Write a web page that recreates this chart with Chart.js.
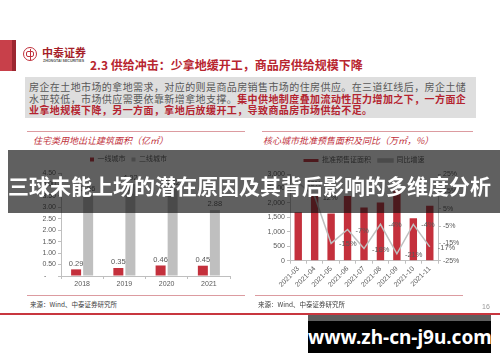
<!DOCTYPE html>
<html>
<head>
<meta charset="utf-8">
<script src="https://cdn.jsdelivr.net/npm/chart.js@4.4.0/dist/chart.umd.min.js"></script>
<style>
  body { margin: 0; width: 500px; height: 362px; position: relative; overflow: hidden; background: #fff;
         font-family: "Noto Sans CJK SC", sans-serif; }
  .abs { position: absolute; white-space: nowrap; }
  .rule { position: absolute; height: 1px; background: #dc9ba0; }
  .cap { position: absolute; font-size: 9px; font-style: italic; color: #c0303b; line-height: 10px; }
  .src { position: absolute; font-size: 6.5px; color: #404040; line-height: 8px; }
  .red { color: #b4232f; font-weight: 700; }
</style>
</head>
<body>

<!-- slide header -->
<div class="abs" style="left:0;top:40px;width:12px;height:31px;background:#c8404a"></div>
<div class="abs" style="left:12px;top:40px;width:4px;height:31px;background:#9c2630"></div>
<div class="abs" style="left:23px;top:47px;width:12px;height:12px;border:1.5px solid #c0303b;border-radius:50%"></div>
<div class="abs" style="left:26px;top:51px;width:6px;height:4px;border:1.3px solid #c0303b;border-radius:2px"></div>
<div class="abs" style="left:29.5px;top:48.5px;width:1.4px;height:11px;background:#c0303b"></div>
<div class="abs" style="left:42px;top:46px;font-size:11px;font-weight:700;color:#a51f2a;line-height:13px">中泰证券</div>
<div class="abs" style="left:43px;top:59px;font-size:3.6px;font-weight:700;color:#555;line-height:4px;font-family:'Liberation Sans'">ZHONGTAI SECURITIES</div>
<div class="abs" style="left:90px;top:57px;font-size:12px;font-weight:700;color:#b8252f;line-height:15px">2.3 供给冲击：少拿地缓开工，商品房供给规模下降</div>

<div class="abs" style="left:25px;top:77px;width:451px;height:41px;background:#dedede"></div>
<div class="abs" style="left:29px;top:80.8px;font-size:10px;line-height:11.7px;letter-spacing:0.41px;color:#595959">房企在土地市场的拿地需求，对应的则是商品房销售市场的住房供应。在三道红线后，房企土储<br>水平较低，市场供应需要依靠新增拿地支撑。<span class="red">集中供地制度叠加流动性压力增加之下，一方面企</span><br><span class="red">业拿地规模下降，另一方面，拿地后放缓开工，导致商品房市场供给不足。</span></div>

<!-- left chart frame -->
<div class="rule" style="left:27px;top:131px;width:218px"></div>
<div class="cap" style="left:33px;top:136px">住宅类用地出让建筑面积（亿㎡）</div>
<canvas id="landChart" class="abs" width="218" height="145" style="left:27px;top:150px"></canvas>
<div class="rule" style="left:27px;top:295px;width:218px"></div>
<div class="src" style="left:30px;top:300px">来源：Wind、中泰证券研究所</div>

<!-- right chart frame -->
<div class="rule" style="left:262px;top:131px;width:211px"></div>
<div class="cap" style="left:263px;top:136px">核心城市批准预售面积及同比（万㎡，%）</div>
<canvas id="presaleChart" class="abs" width="218" height="150" style="left:255px;top:150px"></canvas>
<div class="rule" style="left:255px;top:295px;width:208px"></div>
<div class="src" style="left:258px;top:300px">来源：Wind、中泰证券研究所</div>

<!-- footer -->
<div class="abs" style="left:0;top:312.5px;width:500px;height:2.5px;background:#c8363f"></div>
<div class="abs" style="left:482px;top:303px;font-size:7px;color:#999;line-height:8px;font-family:'Liberation Sans'">16</div>

<!-- overlays -->
<div class="abs" style="left:8px;top:150px;width:492px;height:63px;background:rgba(14,14,14,0.66)"></div>
<div class="abs" style="left:8px;top:172px;font-size:21px;font-weight:700;color:#fff;line-height:26px">三球未能上场的潜在原因及其背后影响的多维度分析</div>
<div class="abs" style="left:308px;top:315px;width:183px;height:6px;background:#5e5e5e"></div>
<div class="abs" style="left:308px;top:321px;width:183px;height:32px;background:#000"></div>
<div class="abs" style="left:308px;top:321px;width:183px;height:32px;line-height:32px;text-align:center;font-family:'Noto Sans';font-weight:700;font-size:19px;color:#fff">www.zh-cn-j9u.com</div>

<script>
// left chart: residential land supply, 100 million m2
const years = ["2018", "2019", "2020", "2021"];
const tier1Area = [0.29, 0.35, 0.46, 0.45];
const tier2Area = [3.56, 4.02, 3.82, 2.88];

// right chart: approved presale area (10k m2) and yoy growth (%)
const months = ["2021-03", "2021-04", "2021-05", "2021-06", "2021-07", "2021-08", "2021-09", "2021-10", "2021-11"];
const presaleArea = [1680, 2250, 1630, 2240, 1840, 2010, 2430, 1470, 1900];
const yoyGrowth = [20, 12, -15, -7, -18, -4, -21, -4, -17];

const RED = "#c4303c";
const GREY = "#bfbfbf";
const TEXT = "#595959";

Chart.defaults.font.family = "'Liberation Sans', 'Noto Sans CJK SC', sans-serif";
Chart.defaults.font.size = 7;
Chart.defaults.color = TEXT;
Chart.defaults.animation = false;

// draws the value of each bar / point next to it
const valueLabels = {
  id: "valueLabels",
  afterDatasetsDraw(chart, args, opts) {
    const ctx = chart.ctx;
    (opts.sets || []).forEach((set) => {
      const meta = chart.getDatasetMeta(set.index);
      const values = chart.data.datasets[set.index].data;
      ctx.save();
      ctx.font = "7.5px 'Liberation Sans'";
      ctx.fillStyle = TEXT;
      meta.data.forEach((el, i) => {
        if (set.mode === "top") {
          ctx.textAlign = "center";
          ctx.textBaseline = "bottom";
          ctx.fillText(values[i].toFixed(2), el.x, el.y - 2);
        } else {
          ctx.textAlign = "left";
          ctx.textBaseline = "middle";
          ctx.fillText(values[i] + "%", el.x + 8, el.y + 1);
        }
      });
      ctx.restore();
    });
  },
};

const axisGrid = { drawOnChartArea: false, drawTicks: true, tickLength: 3, color: GREY };

new Chart(document.getElementById("landChart"), {
  type: "bar",
  data: {
    labels: years,
    datasets: [
      { label: "一线城市", data: tier1Area, backgroundColor: RED, barPercentage: 0.83, categoryPercentage: 0.57 },
      { label: "二线城市", data: tier2Area, backgroundColor: GREY, barPercentage: 0.83, categoryPercentage: 0.57 },
    ],
  },
  options: {
    responsive: false,
    layout: { padding: { right: 15 } },
    plugins: {
      legend: { labels: { boxWidth: 4, boxHeight: 4, padding: 6, font: { size: 7 } } },
      tooltip: { enabled: false },
      valueLabels: { sets: [{ index: 0, mode: "top" }, { index: 1, mode: "top" }] },
    },
    scales: {
      x: {
        grid: axisGrid,
        border: { color: GREY },
        ticks: { padding: 1 },
        afterFit: (s) => { s.height = 19; },
      },
      y: {
        min: 0, max: 4.5,
        grid: axisGrid,
        border: { color: GREY },
        ticks: { stepSize: 0.5, padding: 2, callback: (v) => (v === 0 ? "-     " : v.toFixed(2)) },
        afterFit: (s) => { s.width = 34; },
      },
    },
  },
  plugins: [valueLabels],
});

new Chart(document.getElementById("presaleChart"), {
  type: "bar",
  data: {
    labels: months,
    datasets: [
      { label: "批准预售证面积", data: presaleArea, backgroundColor: RED, barPercentage: 0.5, categoryPercentage: 0.9, order: 2 },
      { type: "line", label: "同比增速", data: yoyGrowth, yAxisID: "y1", borderColor: GREY, backgroundColor: GREY,
        borderWidth: 1.5, pointRadius: 0, tension: 0, order: 1 },
    ],
  },
  options: {
    responsive: false,
    plugins: {
      legend: {
        labels: {
          boxWidth: 15, boxHeight: 3, padding: 7, font: { size: 7 },
          sort: (a, b) => a.datasetIndex - b.datasetIndex,
        },
      },
      tooltip: { enabled: false },
      valueLabels: { sets: [{ index: 1, mode: "right" }] },
    },
    scales: {
      x: {
        grid: axisGrid,
        border: { color: GREY },
        ticks: { minRotation: 45, maxRotation: 45, padding: 1 },
        afterFit: (s) => { s.height = 39.3; },
      },
      y: {
        min: 0, max: 3000,
        grid: axisGrid,
        border: { color: GREY },
        ticks: { stepSize: 500, padding: 2 },
        afterFit: (s) => { s.width = 35; },
      },
      y1: {
        position: "right",
        min: -25, max: 25,
        grid: axisGrid,
        border: { color: GREY },
        ticks: { stepSize: 5, padding: 2, callback: (v) => v + "%" },
        afterFit: (s) => { s.width = 35; },
      },
    },
  },
  plugins: [valueLabels],
});
</script>
</body>
</html>
